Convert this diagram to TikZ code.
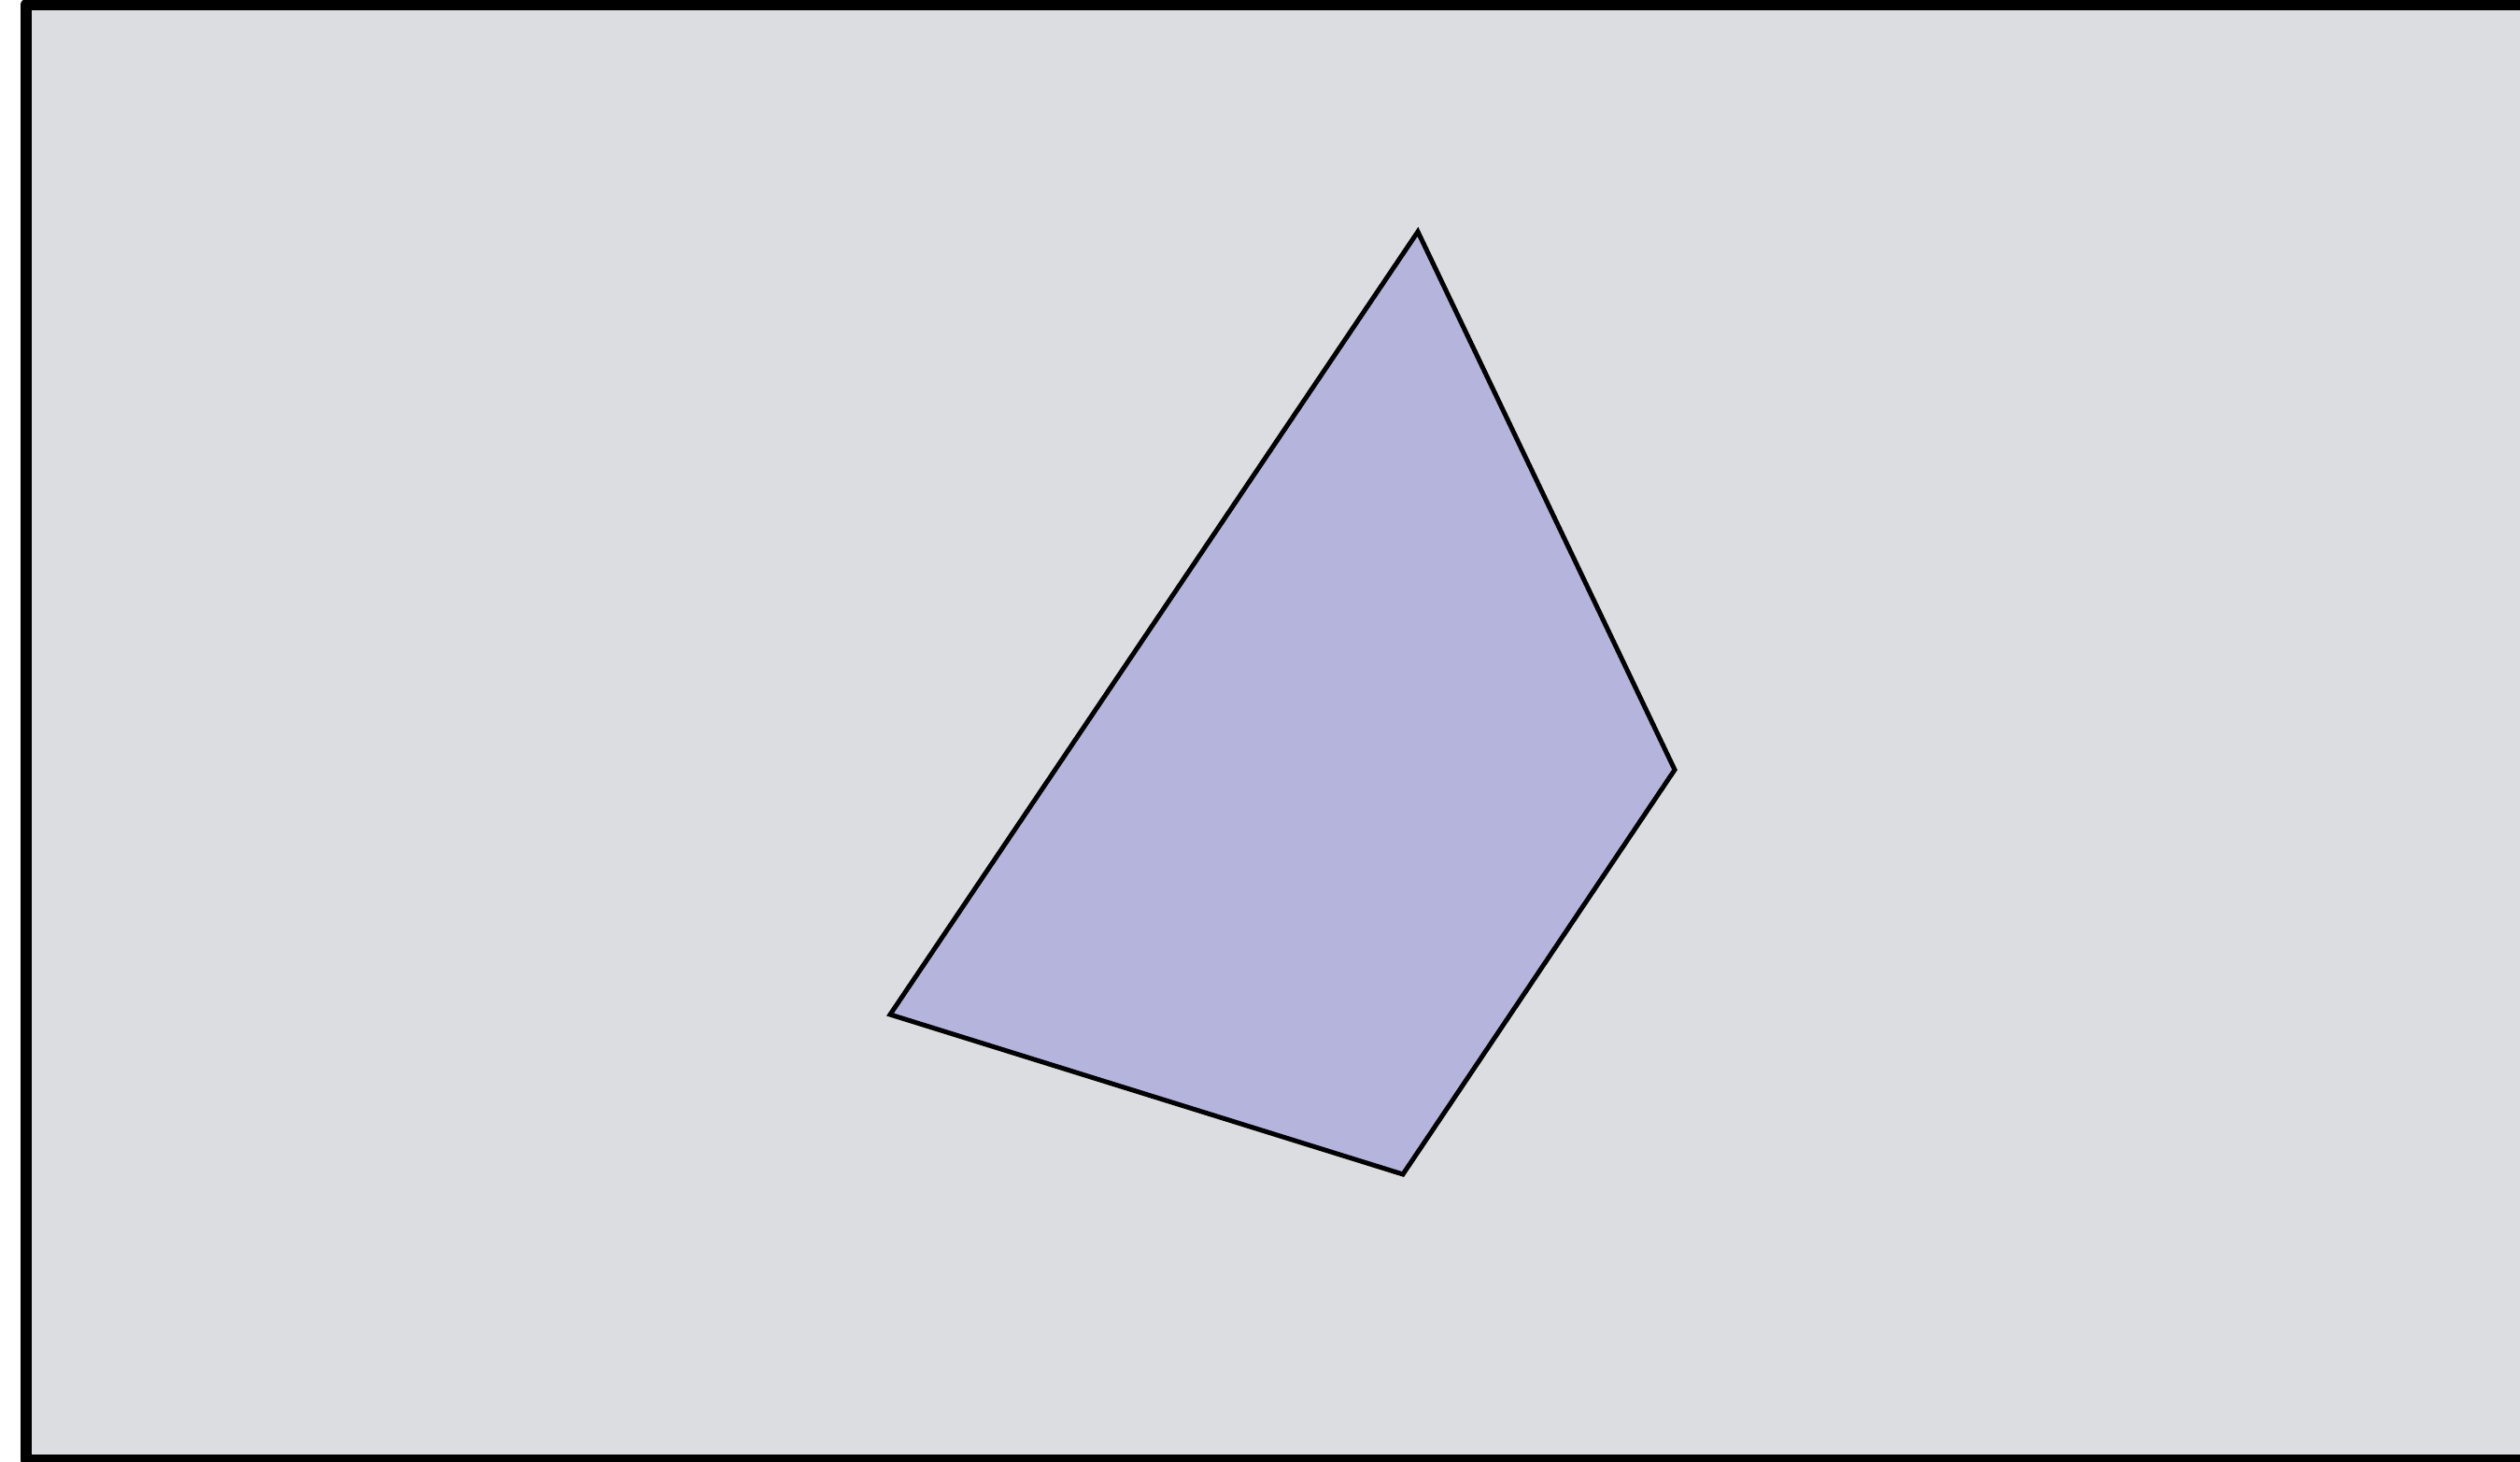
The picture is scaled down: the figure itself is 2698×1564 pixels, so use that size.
\documentclass[tikz,border=0pt]{standalone}
\definecolor{bggray}{RGB}{220,221,224}
\definecolor{quadfill}{RGB}{180,180,221}
\tikzset{
  frame/.style={draw=black, line width=12pt, line join=round, fill=bggray},
  quad/.style={draw=black, line width=5pt, line join=miter, fill=quadfill}
}
\begin{document}
\begin{tikzpicture}[x=1pt,y=-1pt]
\useasboundingbox (0,0) rectangle (2698,1564);
\clip (0,0) rectangle (2698,1564);
\fill[white] (0,0) rectangle (2698,1564);
\draw[frame] (28,5) rectangle (2720,1563);
\coordinate (a) at (1518,248);
\coordinate (b) at (1793,824);
\coordinate (c) at (1502,1257);
\coordinate (d) at (953,1086);
\draw[quad] (a) -- (b) -- (c) -- (d) -- cycle;
\end{tikzpicture}
\end{document}
